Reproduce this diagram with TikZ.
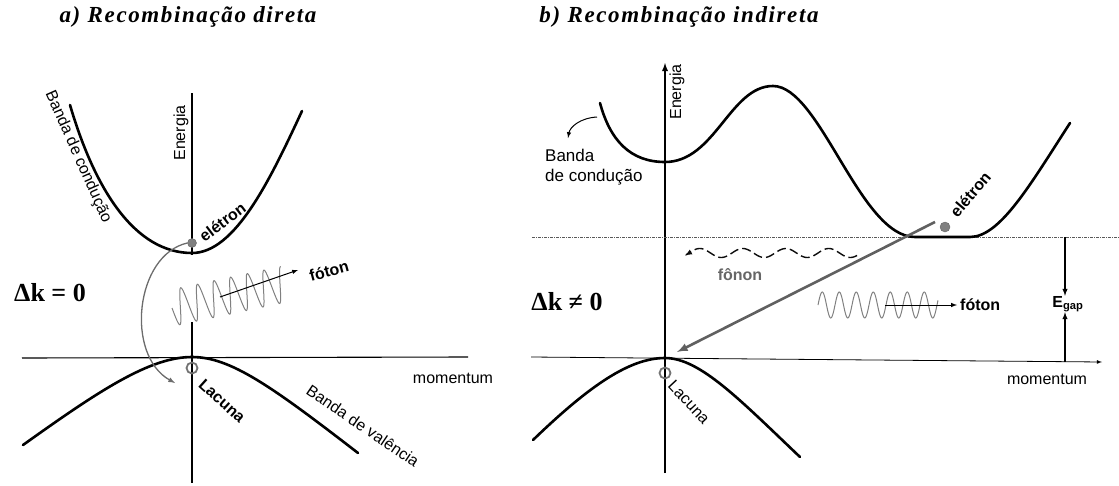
\documentclass[tikz,border=0pt]{standalone}
\usepackage{fontspec}
\setmainfont{Liberation Serif}
\setsansfont{Liberation Sans}
\newfontfamily\titlefont[LetterSpace=7]{Liberation Serif}
\tikzset{
  band/.style={line width=2.6pt, line cap=round},
  axisline/.style={line width=1.1pt},
  lbl/.style={font=\sffamily\fontsize{16}{19}\selectfont, inner sep=0pt},
  blbl/.style={font=\sffamily\bfseries\fontsize{16}{19}\selectfont, inner sep=0pt},
  titulo/.style={font=\titlefont\bfseries\itshape\fontsize{23}{26}\selectfont, inner sep=0pt},
  dk/.style={font=\bfseries\fontsize{26}{29}\selectfont, inner sep=0pt},
  eldot/.style={circle, fill=gray, draw=gray!80!black, minimum size=9pt, inner sep=0pt},
  buraco/.style={circle, draw=gray!90!black, line width=1.8pt, minimum size=11pt, inner sep=0pt},
  onda/.style={gray, line width=1pt},
}
\begin{document}
\begin{tikzpicture}[x=1pt, y=-1pt]
\useasboundingbox (0,0) rectangle (1119,485);

\node[titulo] (ta) at (188,17) {a) Recombinação direta};
\node[titulo] (tb) at (679,17) {b) Recombinação indireta};

% a) recombinacao direta
\draw[axisline] (192,93) -- (192,255);
\draw[axisline] (192,322) -- (192,483);
\draw[axisline] (22,358) -- (468,357);
\draw[band] (70,105) .. controls (95,190) and (135,253) .. (192,253) .. controls (235,253) and (270,180) .. (302,111);
\draw[band] (23,445) .. controls (100,390) and (150,357) .. (192,357) .. controls (230,357) and (270,385) .. (358,453);
\node[eldot] (ea) at (192,243) {};
\node[buraco] (ha) at (192,368) {};
\coordinate (fa) at (175,383);
\draw[gray!85!black, line width=1.3pt, -latex] (ea.west) .. controls (135,255) and (125,355) .. (fa);
\begin{scope}[shift={(172,308)}, rotate=12]
  \draw[onda] plot[domain=0:115, samples=200] (\x,{18*sin(\x/17*360)});
\end{scope}
\coordinate (pa0) at (220,297);
\coordinate (pa1) at (298,270);
\draw[line width=1pt, -latex] (pa0) -- (pa1);
\node[blbl, rotate=15] (fta) at (329,271) {fóton};
\node[blbl, rotate=37, anchor=west] (ela) at (201,238) {elétron};
\node[blbl, rotate=-42, anchor=west] (lca) at (201,382) {Lacuna};
\node[lbl, rotate=90] (ena) at (181,133) {Energia};
\node[lbl] (ma) at (453,378) {momentum};
\node[lbl, rotate=-66] (bca) at (78,157) {Banda de condução};
\node[lbl, rotate=-34] (bva) at (363,426) {Banda de valência};
\node[dk] (dka) at (50,293) {Δk = 0};

% b) recombinacao indireta
\draw[line width=1.8pt, -latex] (665,473) -- (665,63);
\draw[line width=0.8pt, -latex] (531,357) -- (1102,362);
\draw[gray!70!black, line width=1pt, densely dash dot] (532,237) -- (1119,237);
\draw[band] (600,103) .. controls (610,140) and (630,162) .. (665,162) .. controls (715,162) and (730,86) .. (773,86) .. controls (820,86) and (860,237) .. (915,237) -- (970,237) .. controls (1000,237) and (1030,185) .. (1070,123);
\draw[band] (533,440) .. controls (590,385) and (630,358) .. (665,358) .. controls (700,358) and (740,400) .. (800,457);
\node[eldot, minimum size=10pt] (eb) at (945,227) {};
\node[buraco] (hb) at (665,373) {};
\coordinate (rb0) at (935,222);
\coordinate (rb1) at (677,352);
\draw[gray!75!black, line width=2.6pt, -latex] (rb0) -- (rb1);
\draw[gray!10!black, line width=1.4pt, dash pattern=on 9pt off 4pt, -latex] plot[domain=857:685, samples=150] (\x,{253-4.5*sin((\x-689)/43*360)});
\node[blbl, gray!80!black] (fnb) at (740,275) {fônon};
\draw[onda] plot[domain=818:938, samples=200] (\x,{305-13*sin((\x-818)/17*360)});
\coordinate (pb0) at (885,305);
\coordinate (pb1) at (957,305);
\draw[line width=1pt, -latex] (pb0) -- (pb1);
\node[blbl, anchor=west] (ftb) at (960,305) {fóton};
\node[blbl] (eg) at (1068,304) {E\textsubscript{gap}};
\coordinate (gt) at (1065,237);
\coordinate (gb) at (1065,362);
\draw[line width=1.4pt, -latex] (gt) -- (gt |- eg.north);
\draw[line width=1.4pt, -latex] (gb) -- (gb |- eg.south);
\node[blbl, rotate=50, anchor=west] (elb) at (953,215) {elétron};
\node[lbl, rotate=-47, anchor=west] (lcb) at (671,383) {Lacuna};
\node[lbl, rotate=90] (enb) at (677,92) {Energia};
\node[lbl] (mb) at (1047,379) {momentum};
\node[lbl, align=left, anchor=north west, font=\sffamily\fontsize{17}{20}\selectfont] (bcb) at (545,149) {Banda\\de condução};
\coordinate (cb0) at (597,117);
\coordinate (cb1) at (568,138);
\draw[line width=1pt, -latex] (cb0) .. controls (580,118) and (570,127) .. (cb1);
\node[dk] (dkb) at (567,302) {Δk ≠ 0};
\end{tikzpicture}
\end{document}
